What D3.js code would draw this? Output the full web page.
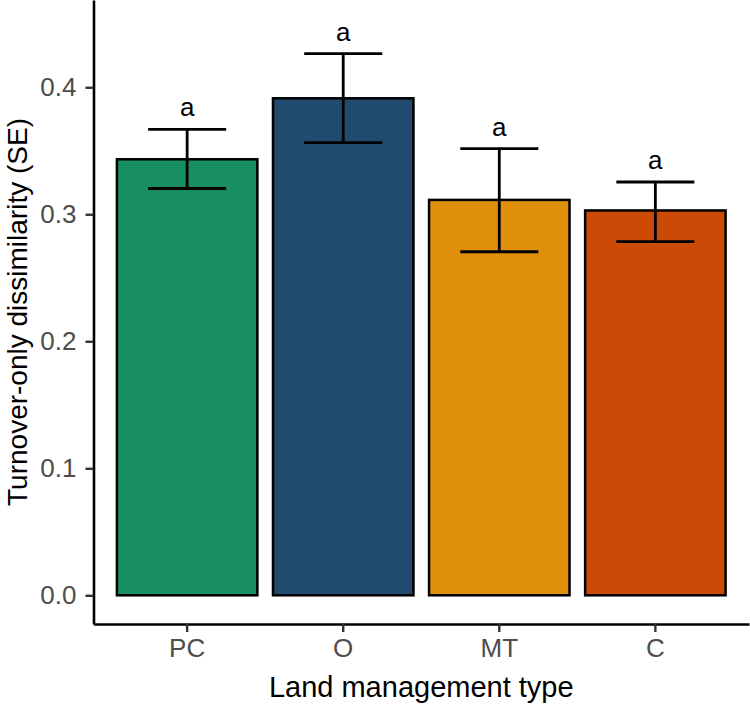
<!DOCTYPE html>
<html>
<head>
<meta charset="utf-8">
<script src="https://cdn.jsdelivr.net/npm/d3@7"></script>
<style>
  body { margin: 0; background: #fff; }
  svg { display: block; }
</style>
</head>
<body>
<div id="chart"></div>
<script>
// values
const categories = ["PC", "O", "MT", "C"];
const means = [0.3433, 0.3913, 0.3113, 0.3030];
const upper = [0.3669, 0.4265, 0.3517, 0.3254];
const lower = [0.3203, 0.3564, 0.2705, 0.2785];
const letters = ["a", "a", "a", "a"];
const yTicks = [0.0, 0.1, 0.2, 0.3, 0.4];
const fills = ["#178f61", "#204b6e", "#e08f0a", "#cb4a05"];

const width = 750;
const height = 704;
const margin = ({top: 0, right: 1, bottom: 80, left: 93.5});
const font = "'Liberation Sans', Arial, sans-serif";

const x = d3.scaleBand()
  .domain(categories)
  .range([margin.left, width - margin.right])
  .paddingInner(0.1)
  .paddingOuter(0.15);

const y = d3.scaleLinear()
  .domain([-0.0226, 0.4687])
  .range([height - margin.bottom, margin.top]);

const svg = d3.select("#chart").append("svg")
  .attr("width", width)
  .attr("height", height)
  .attr("viewBox", [0, 0, width, height])
  .style("font-family", font);

const data = categories.map((c, i) => ({
  name: c, mean: means[i], hi: upper[i], lo: lower[i], label: letters[i], fill: fills[i]
}));

// bars
svg.append("g")
  .selectAll("rect")
  .data(data)
  .join("rect")
    .attr("x", d => x(d.name))
    .attr("width", x.bandwidth())
    .attr("y", d => y(d.mean))
    .attr("height", d => y(0) - y(d.mean))
    .attr("fill", d => d.fill)
    .attr("stroke", "#000")
    .attr("stroke-width", 2.5);

// error bars
const capW = x.bandwidth() * 0.5 / 0.9;
const err = svg.append("g")
  .attr("stroke", "#000")
  .attr("stroke-width", 2.8)
  .selectAll("g")
  .data(data)
  .join("g")
    .attr("transform", d => `translate(${x(d.name) + x.bandwidth() / 2},0)`);

err.append("line")
  .attr("y1", d => y(d.lo))
  .attr("y2", d => y(d.hi));
err.append("line")
  .attr("x1", -capW / 2).attr("x2", capW / 2)
  .attr("y1", d => y(d.hi)).attr("y2", d => y(d.hi));
err.append("line")
  .attr("x1", -capW / 2).attr("x2", capW / 2)
  .attr("y1", d => y(d.lo)).attr("y2", d => y(d.lo));

// significance letters
svg.append("g")
  .selectAll("text")
  .data(data)
  .join("text")
    .attr("x", d => x(d.name) + x.bandwidth() / 2)
    .attr("y", d => y(d.hi) - 13)
    .attr("text-anchor", "middle")
    .attr("font-size", 26)
    .attr("fill", "#000")
    .text(d => d.label);

// axes
const xAxis = g => g
  .attr("transform", `translate(0,${height - margin.bottom})`)
  .call(d3.axisBottom(x).tickSize(8).tickPadding(7).tickSizeOuter(0))
  .call(g => g.select(".domain").attr("stroke-width", 2.6).attr("stroke", "#000"))
  .call(g => g.selectAll(".tick line").attr("stroke-width", 2.4).attr("stroke", "#333"))
  .call(g => g.selectAll(".tick text").attr("font-size", 26).attr("fill", "#4d4d4d")
      .attr("font-family", font));

const yAxis = g => g
  .attr("transform", `translate(${margin.left},0)`)
  .call(d3.axisLeft(y).tickValues(yTicks).tickFormat(d3.format(".1f")).tickSize(8).tickPadding(9).tickSizeOuter(0))
  .call(g => g.select(".domain").attr("stroke-width", 2.6).attr("stroke", "#000"))
  .call(g => g.selectAll(".tick line").attr("stroke-width", 2.4).attr("stroke", "#333"))
  .call(g => g.selectAll(".tick text").attr("font-size", 26).attr("fill", "#4d4d4d")
      .attr("font-family", font));

svg.append("g").call(xAxis);
svg.append("g").call(yAxis);

// axis titles
svg.append("text")
  .attr("x", (margin.left + width - margin.right) / 2)
  .attr("y", 697)
  .attr("text-anchor", "middle")
  .attr("font-size", 29)
  .attr("fill", "#000")
  .text("Land management type");

svg.append("text")
  .attr("transform", `translate(27,${(height - margin.bottom) / 2}) rotate(-90)`)
  .attr("text-anchor", "middle")
  .attr("font-size", 28)
  .attr("fill", "#000")
  .text("Turnover-only dissimilarity (SE)");
</script>
</body>
</html>
